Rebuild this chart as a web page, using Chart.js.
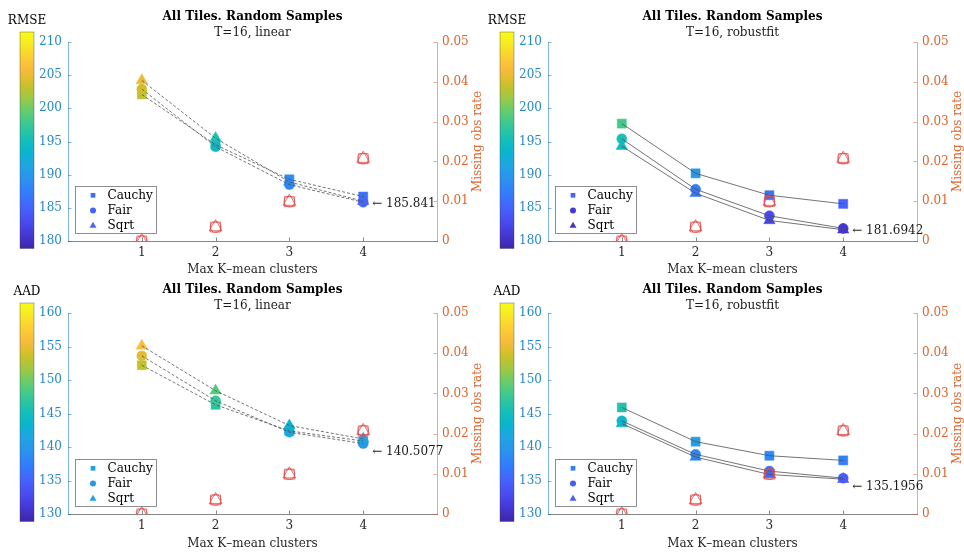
<!DOCTYPE html>
<html><head><meta charset="utf-8">
<script src="https://cdn.jsdelivr.net/npm/chart.js@4/dist/chart.umd.min.js"></script>
<style>
html,body{margin:0;padding:0;background:#fff;}
body{width:964px;height:553px;position:relative;overflow:hidden;}
canvas{position:absolute;}
</style></head><body>
<canvas id="c0" width="484" height="276" style="left:0;top:0"></canvas>
<canvas id="c1" width="484" height="276" style="left:480px;top:0"></canvas>
<canvas id="c2" width="484" height="277" style="left:0;top:276px"></canvas>
<canvas id="c3" width="484" height="277" style="left:480px;top:276px"></canvas>
<script>
// ---------- data ----------
const clusters = [1, 2, 3, 4];
const xTicks = [1, 2, 3, 4];
const rmseTicks = [180, 185, 190, 195, 200, 205, 210];
const aadTicks = [130, 135, 140, 145, 150, 155, 160];
const missTicks = [0, 0.01, 0.02, 0.03, 0.04, 0.05];
const seriesNames = ['Cauchy', 'Fair', 'Sqrt'];
const missRate = [0, 0.0035, 0.0099, 0.0207];

const rmseLinCauchy = [202.1, 194.5, 189.3, 186.7];
const rmseLinFair   = [202.9, 194.2, 188.5, 185.841];
const rmseLinSqrt   = [204.2, 195.5, 188.9, 186.0];

const rmseRobCauchy = [197.7, 190.2, 186.9, 185.6];
const rmseRobFair   = [195.4, 187.8, 183.8, 181.9];
const rmseRobSqrt   = [194.3, 187.2, 183.1, 181.6942];

const aadLinCauchy = [152.2, 146.3, 142.4, 140.9];
const aadLinFair   = [153.6, 146.9, 142.2, 140.5077];
const aadLinSqrt   = [155.1, 148.4, 143.2, 141.2];

const aadRobCauchy = [145.9, 140.8, 138.7, 138.0];
const aadRobFair   = [143.9, 138.9, 136.4, 135.35];
const aadRobSqrt   = [143.5, 138.5, 135.9, 135.1956];

// ---------- style ----------
const F = '"DejaVu Serif", serif';
const BLUE = '#2588c8', BLUE_AX = 'rgba(0,114,189,0.5)';
const ORANGE = '#db642c', ORANGE_AX = 'rgba(217,83,25,0.5)';
const DARK = '#262626', DARK_AX = 'rgba(38,38,38,0.55)';
const RED = '#e04a4a';

const PARULA = [
 [0.2422,0.1504,0.6603],[0.2706,0.2147,0.8364],[0.2813,0.3006,0.9414],[0.2699,0.3892,0.9906],
 [0.1963,0.4847,0.9892],[0.1687,0.5703,0.9359],[0.1248,0.6459,0.8883],[0.0297,0.7082,0.8163],
 [0.0964,0.7500,0.7120],[0.2161,0.7843,0.5923],[0.3909,0.8029,0.4354],[0.6174,0.7876,0.2612],
 [0.8203,0.7498,0.1535],[0.9728,0.7298,0.2394],[0.9892,0.8136,0.1885],[0.9654,0.9265,0.1387],
 [0.9769,0.9839,0.0805]];
const PARULA_T = [0,4,8,12,16,20,24,28,32,36,40,44,48,52,56,60,63].map(r => r / 63);
function parula(t) {
  t = Math.min(1, Math.max(0, t));
  let i = 0;
  while (i < PARULA_T.length - 2 && t > PARULA_T[i + 1]) i++;
  const f = (t - PARULA_T[i]) / (PARULA_T[i + 1] - PARULA_T[i]);
  const c = PARULA[i].map((v, k) => v + (PARULA[i + 1][k] - v) * f);
  return 'rgb(' + c.map(v => Math.round(v * 255)).join(',') + ')';
}
function cmap(v, lo, hi) { return parula((v - lo) / (hi - lo)); }

const panels = [
  {id:'c0', metric:'RMSE', sub:'T=16, linear', series:[rmseLinCauchy, rmseLinFair, rmseLinSqrt], ticks:rmseTicks, dash:[3,2], h:276, bottom:241, tp:[10.1,0,1.3,1.8], xtPad:-1.2, annDy:2},
  {id:'c1', metric:'RMSE', sub:'T=16, robustfit', series:[rmseRobCauchy, rmseRobFair, rmseRobSqrt], ticks:rmseTicks, dash:[], h:276, bottom:241, tp:[10.1,0,1.3,1.8], xtPad:-1.2, annDy:1.5},
  {id:'c2', metric:'AAD', sub:'T=16, linear', series:[aadLinCauchy, aadLinFair, aadLinSqrt], ticks:aadTicks, dash:[3,2], h:277, bottom:238, tp:[6.2,0,1.6,0.4], xtPad:1.5, annDy:8},
  {id:'c3', metric:'AAD', sub:'T=16, robustfit', series:[aadRobCauchy, aadRobFair, aadRobSqrt], ticks:aadTicks, dash:[], h:277, bottom:238, tp:[6.2,0,1.6,0.4], xtPad:1.5, annDy:8}
];

function marker(ctx, style, x, y, r, color) {
  ctx.fillStyle = color;
  ctx.beginPath();
  if (style === 'rect') { const s = r * Math.SQRT1_2; ctx.rect(x - s, y - s, 2 * s, 2 * s); }
  else if (style === 'circle') { ctx.arc(x, y, r, 0, Math.PI * 2); }
  else { ctx.moveTo(x, y - r); ctx.lineTo(x + r * 0.866, y + r * 0.5); ctx.lineTo(x - r * 0.866, y + r * 0.5); ctx.closePath(); }
  ctx.fill();
}

const styles = ['rect', 'circle', 'triangle'];
const fillRadii = [6.4, 5, 6.6];
const hollowRadii = [7, 5.4, 7.4];

function makeChart(p) {
  const lo = p.ticks[0], hi = p.ticks[p.ticks.length - 1];
  const pts = arr => clusters.map((c, k) => ({x: c, y: arr[k]}));
  const datasets = [];
  styles.forEach((s, i) => datasets.push({
    yAxisID: 'y2', data: pts(missRate), pointStyle: s, pointRadius: hollowRadii[i],
    pointBackgroundColor: 'rgba(0,0,0,0)', pointBorderColor: RED, pointBorderWidth: 0.8,
    showLine: false, order: 1
  }));
  p.series.forEach(arr => datasets.push({
    yAxisID: 'y', data: pts(arr), showLine: true, pointRadius: 0,
    borderColor: '#505050', borderWidth: 0.8, borderDash: p.dash, order: 2
  }));
  p.series.forEach((arr, i) => {
    const cols = arr.map(v => cmap(v, lo, hi));
    datasets.push({
      yAxisID: 'y', data: pts(arr), pointStyle: styles[i], pointRadius: fillRadii[i],
      pointBackgroundColor: cols, pointBorderColor: cols, pointBorderWidth: 0.5,
      showLine: false, order: 5 - i
    });
  });

  const extras = {
    id: 'extras',
    afterDraw(chart) {
      const {ctx, chartArea: a, scales} = chart;
      ctx.save();
      // inward tick marks
      ctx.lineWidth = 1;
      ctx.strokeStyle = DARK_AX;
      xTicks.forEach(v => { const x = Math.round(scales.x.getPixelForValue(v)) + 0.5; ctx.beginPath(); ctx.moveTo(x, a.bottom); ctx.lineTo(x, a.bottom - 3.5); ctx.stroke(); });
      ctx.strokeStyle = BLUE_AX;
      p.ticks.forEach(v => { const y = Math.round(scales.y.getPixelForValue(v)) + 0.5; ctx.beginPath(); ctx.moveTo(a.left, y); ctx.lineTo(a.left + 3.5, y); ctx.stroke(); });
      ctx.strokeStyle = ORANGE_AX;
      missTicks.forEach(v => { const y = Math.round(scales.y2.getPixelForValue(v)) + 0.5; ctx.beginPath(); ctx.moveTo(a.right, y); ctx.lineTo(a.right - 3.5, y); ctx.stroke(); });
      // colorbar
      const cx = 20, cw = 14, cy0 = a.top - 10, cy1 = a.bottom + 7.5;
      const g = ctx.createLinearGradient(0, cy1, 0, cy0);
      for (let k = 0; k <= 40; k++) g.addColorStop(k / 40, parula(k / 40));
      ctx.fillStyle = g;
      ctx.fillRect(cx, cy0, cw, cy1 - cy0);
      ctx.strokeStyle = 'rgba(60,60,60,0.6)'; ctx.lineWidth = 0.6;
      ctx.strokeRect(cx, cy0, cw, cy1 - cy0);
      ctx.fillStyle = '#000'; ctx.font = '12px ' + F; ctx.textAlign = 'center'; ctx.textBaseline = 'middle';
      ctx.fillText(p.metric, cx + cw / 2, cy0 - 11);
      // right axis title
      ctx.save();
      ctx.translate(478, (a.top + a.bottom) / 2);
      ctx.rotate(-Math.PI / 2);
      ctx.fillStyle = ORANGE; ctx.fillText('Missing obs rate', 0, 0);
      ctx.restore();
      // legend
      const bx = a.left + 7.5, by = a.bottom - 54.5, bw = 81, bh = 47;
      ctx.fillStyle = '#fff'; ctx.fillRect(bx, by, bw, bh);
      ctx.strokeStyle = 'rgba(80,80,80,0.8)'; ctx.lineWidth = 0.8; ctx.strokeRect(bx, by, bw, bh);
      const legR = [3.3, 3, 4];
      seriesNames.forEach((n, i) => {
        const yy = by + 8.8 + i * 15.2;
        const arr = p.series[i];
        marker(ctx, styles[i], bx + 17.5, yy, legR[i], cmap(arr[arr.length - 1], lo, hi));
        ctx.fillStyle = '#000'; ctx.textAlign = 'left'; ctx.textBaseline = 'middle';
        ctx.fillText(n, bx + 32, yy + 0.5);
      });
      // min annotation
      const last = p.series.map(s => s[s.length - 1]);
      const mn = Math.min(...last);
      const ax = scales.x.getPixelForValue(clusters[clusters.length - 1]) + 9;
      const ay = scales.y.getPixelForValue(mn) + p.annDy;
      ctx.fillStyle = '#1a1a1a'; ctx.textAlign = 'left'; ctx.textBaseline = 'middle';
      ctx.fillText('\u2190 ' + mn, ax, ay);
      ctx.restore();
    }
  };

  const tickFont = {family: F, size: 12};
  new Chart(document.getElementById(p.id), {
    type: 'scatter',
    data: {datasets},
    options: {
      responsive: false, animation: false, events: [],
      layout: {padding: 0},
      plugins: {
        legend: {display: false}, tooltip: {enabled: false},
        title: {display: true, fullSize: false, text: 'All Tiles. Random Samples', color: '#000',
          font: {family: F, size: 12, weight: 'bold', lineHeight: 1.2}, padding: {top: p.tp[0], bottom: p.tp[1]}},
        subtitle: {display: true, fullSize: false, text: p.sub, color: '#1a1a1a',
          font: {family: F, size: 12, lineHeight: 1.2}, padding: {top: p.tp[2], bottom: p.tp[3]}}
      },
      scales: {
        x: {type: 'linear', min: 0, max: 5,
          afterBuildTicks: s => { s.ticks = xTicks.map(v => ({value: v})); },
          afterFit: s => { s.height = p.h - p.bottom; },
          grid: {display: false, drawTicks: false},
          border: {display: true, color: DARK_AX, width: 1},
          ticks: {color: DARK, font: tickFont, padding: 5, maxRotation: 0, autoSkip: false},
          title: {display: true, text: 'Max K\u2013mean clusters', color: DARK, font: {family: F, size: 12, lineHeight: 1.2}, padding: {top: 0, bottom: p.xtPad}}
        },
        y: {type: 'linear', position: 'left', min: lo, max: hi,
          afterBuildTicks: s => { s.ticks = p.ticks.map(v => ({value: v})); },
          afterFit: s => { s.width = 68; },
          grid: {display: false, drawTicks: false},
          border: {display: true, color: BLUE_AX, width: 1},
          ticks: {color: BLUE, font: tickFont, padding: 6, autoSkip: false}
        },
        y2: {type: 'linear', position: 'right', min: 0, max: 0.05,
          afterBuildTicks: s => { s.ticks = missTicks.map(v => ({value: v})); },
          afterFit: s => { s.width = 47; },
          grid: {display: false, drawTicks: false},
          border: {display: true, color: ORANGE_AX, width: 1},
          ticks: {color: ORANGE, font: tickFont, padding: 5, autoSkip: false, callback: v => String(+Number(v).toFixed(4))}
        }
      }
    },
    plugins: [extras]
  });
}
panels.forEach(makeChart);
</script>
</body></html>
